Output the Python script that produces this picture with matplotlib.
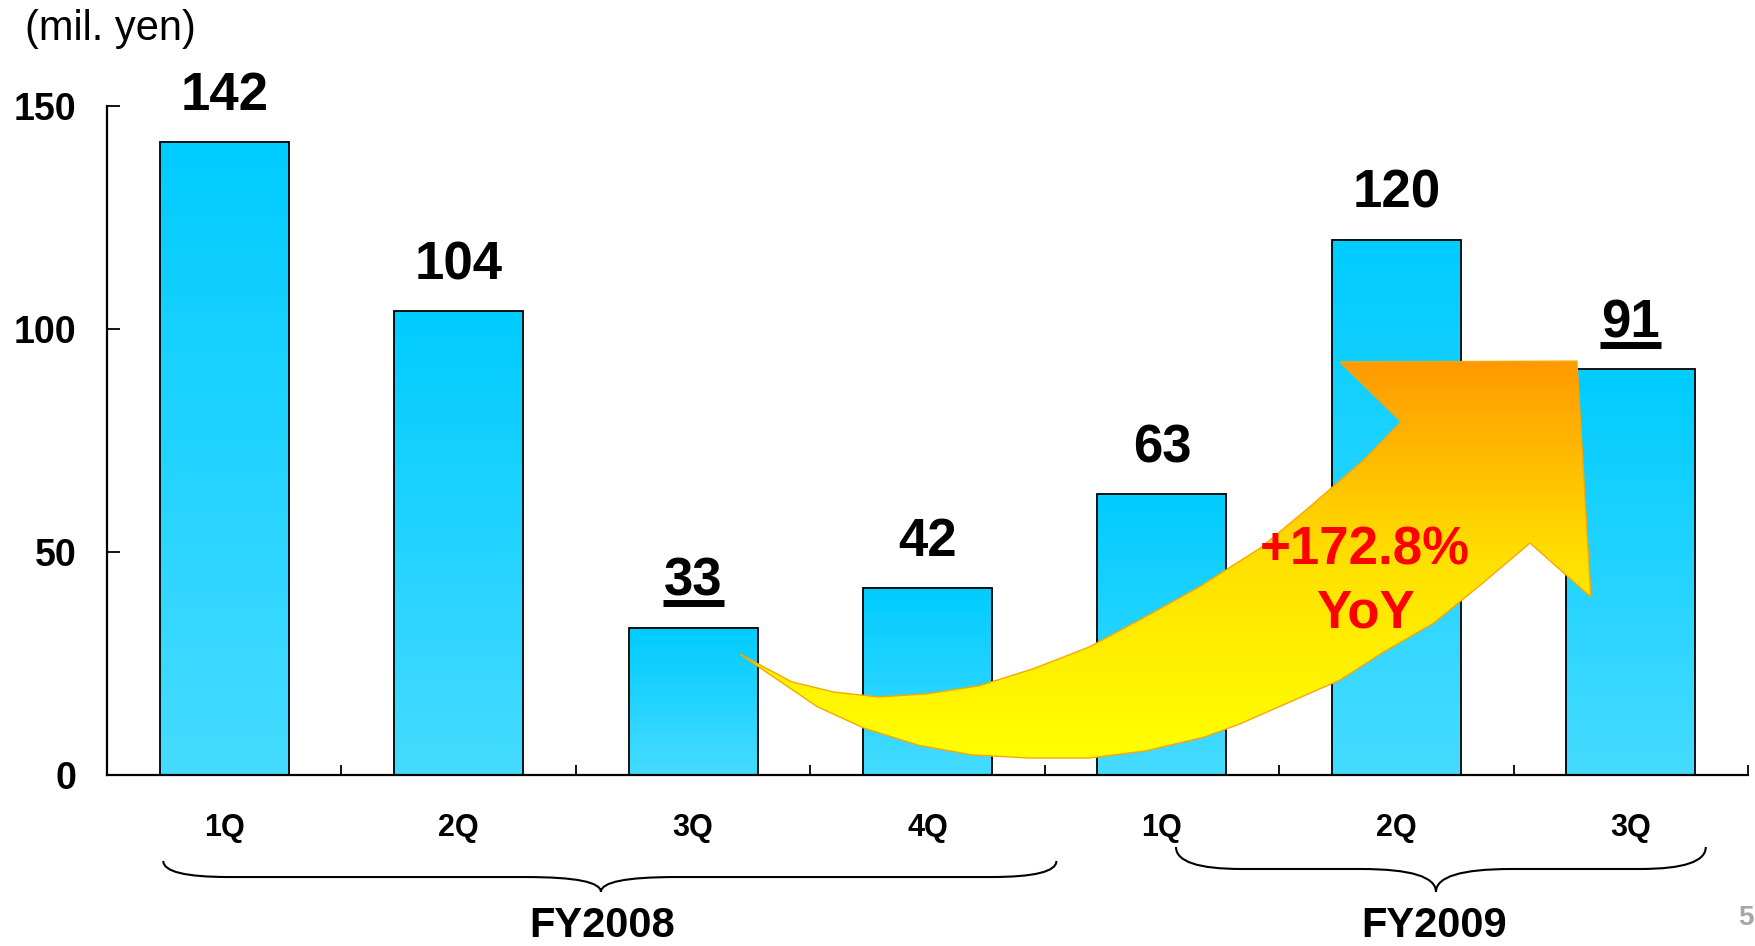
import numpy as np
import matplotlib
matplotlib.use('Agg')
import matplotlib.pyplot as plt
from matplotlib.colors import LinearSegmentedColormap
from matplotlib.patches import Polygon, PathPatch
from matplotlib.path import Path
from matplotlib.ticker import FixedLocator
import matplotlib.transforms as mtransforms

plt.rcParams['font.family'] = ['Liberation Sans', 'DejaVu Sans']
plt.rcParams['font.weight'] = 'bold'

# quarterly figures (mil. yen)
quarters = ['1Q', '2Q', '3Q', '4Q', '1Q', '2Q', '3Q']
sales = [142, 104, 33, 42, 63, 120, 91]
underlined = [False, False, True, False, False, False, True]
fiscal_years = ['FY2008', 'FY2009']
yoy_text = ['+172.8%', 'YoY']

# outline of the growth arrow, in data units (category index, value)
arrow_x = [2.20, 2.42, 2.60, 2.79, 3.00, 3.22, 3.45, 3.69, 3.92, 4.16, 4.42,
           4.63, 4.86, 5.02, 4.76, 5.77, 5.83, 5.57, 5.37, 5.16, 4.94, 4.76,
           4.33, 4.18, 3.93, 3.69, 3.44, 3.19, 2.96, 2.73, 2.53]
arrow_y = [27.1, 20.9, 18.6, 17.5, 18.2, 20.0, 23.8, 28.7, 35.2, 42.2, 50.9,
           60.1, 70.6, 79.2, 92.6, 92.8, 39.9, 52.0, 43.1, 34.1, 27.4, 21.3,
           11.4, 8.5, 5.4, 3.8, 3.8, 4.5, 6.7, 10.5, 15.3]

bar_cmap = LinearSegmentedColormap.from_list('bar', ['#46DBFF', '#00CCFF'])
arrow_cmap = LinearSegmentedColormap.from_list('arr', ['#FFFF00', '#FFE000', '#FF9900'])

fig = plt.figure(figsize=(17.55, 9.46), dpi=100)
ax = fig.add_axes([0.06097, 0.18076, 0.93504, 0.70719])

x = np.arange(len(sales))
bars = ax.bar(x, sales, width=0.55, facecolor='none', edgecolor='black',
              linewidth=1.3, zorder=3)

# vertical gradient inside every bar
grad = np.linspace(0, 1, 256).reshape(-1, 1)
for rect in bars:
    x0 = rect.get_x()
    ax.imshow(grad, extent=[x0, x0 + rect.get_width(), 0, rect.get_height()],
              origin='lower', cmap=bar_cmap, aspect='auto', zorder=2,
              interpolation='bicubic')

# value labels, some underlined
ul_trans = mtransforms.offset_copy(ax.transData, fig=fig, x=0, y=24.5, units='dots')
for xi, v, ul in zip(x, sales, underlined):
    ax.annotate(str(v), (xi, v), xytext=(0, 23), textcoords='offset points',
                ha='center', va='baseline', fontsize=38, fontweight='bold')
    if ul:
        ax.plot([xi - 0.13, xi + 0.13], [v, v], color='black', lw=5.0,
                solid_capstyle='butt', transform=ul_trans, clip_on=False)

# growth arrow with yellow-to-orange fill
pts = np.column_stack([arrow_x, arrow_y])
arrow = Polygon(pts, closed=True, facecolor='none', edgecolor='#F8A800',
                linewidth=1.0, zorder=5)
ax.add_patch(arrow)
fill = ax.imshow(grad, extent=[min(arrow_x), max(arrow_x), min(arrow_y), max(arrow_y)],
                 origin='lower', cmap=arrow_cmap, aspect='auto', zorder=4,
                 interpolation='bicubic')
fill.set_clip_path(arrow)

ax.text(4.866, 47.1, yoy_text[0], color='#FF0000', fontsize=38,
        fontweight='bold', ha='center', va='baseline', zorder=6)
ax.text(4.870, 33.0, yoy_text[1], color='#FF0000', fontsize=38,
        fontweight='bold', ha='center', va='baseline', zorder=6)

ax.set_xlim(-0.5, 6.5)
ax.set_ylim(0, 150)
ax.set_yticks([0, 50, 100, 150])
ax.set_xticks(x)
ax.set_xticklabels(quarters, fontsize=22, fontweight='bold')
ax.xaxis.set_minor_locator(FixedLocator(np.arange(-0.5, 7, 1)))
ax.tick_params(axis='x', which='major', length=0, pad=27)
ax.tick_params(axis='x', which='minor', direction='in', length=7, width=1.3)
ax.tick_params(axis='y', direction='in', length=9, width=1.3, pad=22, labelsize=27)
for t in ax.get_yticklabels():
    t.set_fontweight('bold')

for side in ['top', 'right']:
    ax.spines[side].set_visible(False)
for side in ['left', 'bottom']:
    ax.spines[side].set_linewidth(1.6)

# fiscal year braces below the quarter labels
brace_trans = mtransforms.blended_transform_factory(ax.transData, fig.transFigure)
brace_spans = [(-0.26, 3.55, 1.607), (4.06, 6.32, 5.169)]
brace_levels = [(0.0899, 0.0729, 0.0571), (0.1047, 0.0814, 0.0571)]
hook, mid = 0.28, 0.32
for (xa, xb, xm), (ytop, yline, ytip) in zip(brace_spans, brace_levels):
    verts = [(xa, ytop), (xa, yline), (xa + hook, yline),
             (xm - mid, yline),
             (xm, yline), (xm, ytip),
             (xm, yline), (xm + mid, yline),
             (xb - hook, yline),
             (xb, yline), (xb, ytop)]
    codes = [Path.MOVETO, Path.CURVE3, Path.CURVE3,
             Path.LINETO,
             Path.CURVE3, Path.CURVE3,
             Path.CURVE3, Path.CURVE3,
             Path.LINETO,
             Path.CURVE3, Path.CURVE3]
    ax.add_patch(PathPatch(Path(verts, codes), facecolor='none', edgecolor='black',
                           linewidth=1.5, transform=brace_trans, clip_on=False))

for name, xm in zip(fiscal_years, [1.612, 5.161]):
    ax.text(xm, 0.009, name, transform=brace_trans, ha='center', va='baseline',
            fontsize=30, fontweight='bold')

fig.text(25 / 1755, 1 - 40 / 946, '(mil. yen)', fontsize=30, fontweight='normal',
         ha='left', va='baseline')
fig.text(1738 / 1755, 1 - 925 / 946, '5', fontsize=20, color='#A6A6A6',
         ha='left', va='baseline')

fig.savefig('out.png', dpi=100)
